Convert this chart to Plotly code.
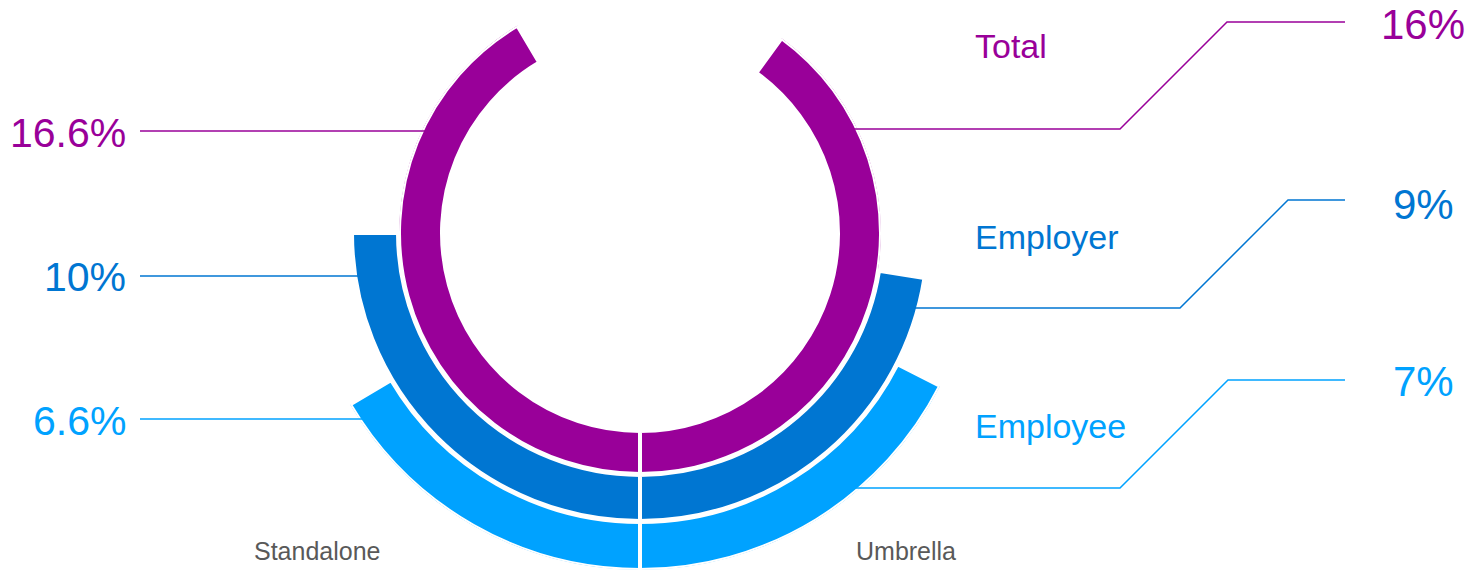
import math
import plotly.graph_objects as go

W, H = 1482, 570

# ---- data -------------------------------------------------------------
series = ["Total", "Employer", "Employee"]
standalone = [16.6, 10, 6.6]   # left half
umbrella = [16, 9, 7]          # right half
sides = ["Standalone", "Umbrella"]
colors = ["#990099", "#0076D2", "#00A2FF"]

# ---- geometry ---------------------------------------------------------
DEG_PER_PCT = 9.0            # 40 % would close a full circle
CX, CY = 640, 233            # ring centre in page pixels
STROKE = 4                   # white outline: splits halves and rings
# (inner, outer) radius of every ring in pixels, outline included
rings = [(198, 241), (242, 288), (289, 337)]
FONT = "Liberation Sans, Arial, sans-serif"

fig = go.Figure()

# ring 0 sits on a subplot whose sector reaches above the centre,
# the two outer rings on a lower half-disc subplot sharing the same centre
for i, name in enumerate(series):
    inner, outer = rings[i]
    sub = "polar" if i == 0 else "polar2"
    for vals, sign, side in ((standalone, 1, sides[0]), (umbrella, -1, sides[1])):
        span = vals[i] * DEG_PER_PCT
        fig.add_trace(go.Barpolar(
            r=[outer - inner], base=[inner],
            theta=[sign * span / 2], width=[span],
            marker=dict(color=colors[i], line=dict(color="white", width=STROKE)),
            subplot=sub, name=f"{name} – {side}", showlegend=False,
            hoverinfo="skip",
        ))


def polar_layout(R, up, sector):
    return dict(
        domain=dict(x=[(CX - R) / W, (CX + R) / W],
                    y=[max(0, (H - (CY + R)) / H), (H - (CY - up * R)) / H]),
        sector=sector,
        bgcolor="rgba(0,0,0,0)",
        hole=0,
        radialaxis=dict(visible=False, range=[0, R]),
        angularaxis=dict(visible=False, rotation=270, direction="clockwise",
                         thetaunit="degrees"),
    )


R1 = rings[0][1]
R2 = rings[-1][1]

# overlay axes in page pixels for the call-out lines and labels
fig.update_layout(
    width=W, height=H,
    margin=dict(l=0, r=0, t=0, b=0),
    paper_bgcolor="white", plot_bgcolor="rgba(0,0,0,0)",
    polar=polar_layout(R1, math.sin(math.radians(60)), [120, 420]),
    polar2=polar_layout(R2, 0, [180, 360]),
    xaxis=dict(range=[0, W], visible=False, fixedrange=True),
    yaxis=dict(range=[H, 0], visible=False, fixedrange=True),
    font=dict(family=FONT),
    barmode="overlay",
)

# left call-outs: horizontal line from the label to the ring edge
left_y = [131, 276, 419]
left_label_y = [133, 277, 421]
for i in range(3):
    ro = rings[i][1] - STROKE / 2
    y = left_y[i]
    x_ring = CX - math.sqrt(ro ** 2 - (y - CY) ** 2)
    fig.add_shape(type="line", xref="x", yref="y", x0=140, y0=y, x1=x_ring + 2, y1=y,
                  line=dict(color=colors[i], width=1.5))
    fig.add_annotation(x=128, y=left_label_y[i], xref="x", yref="y",
                       text=f"{standalone[i]:g}%", showarrow=False,
                       xanchor="right", yanchor="middle",
                       font=dict(size=41, color=colors[i], family=FONT))

# right call-outs: elbow lines up to the value labels
right_start_y = [129, 308, 488]
right_elbow_x = [1120, 1180, 1120]
right_top_y = [22, 200, 380]
right_label_y = [24, 204, 381]
series_label_y = [46, 237, 426]
for i in range(3):
    ro = rings[i][1] - STROKE / 2
    y0 = right_start_y[i]
    x_ring = CX + math.sqrt(ro ** 2 - (y0 - CY) ** 2)
    ex = right_elbow_x[i]
    ty = right_top_y[i]
    path = (f"M {x_ring - 2},{y0} L {ex},{y0} "
            f"L {ex + (y0 - ty)},{ty} L 1345,{ty}")
    fig.add_shape(type="path", xref="x", yref="y", path=path,
                  line=dict(color=colors[i], width=1.5))
    fig.add_annotation(x=1423, y=right_label_y[i], xref="x", yref="y",
                       text=f"{umbrella[i]:g}%", showarrow=False,
                       xanchor="center", yanchor="middle",
                       font=dict(size=42, color=colors[i], family=FONT))
    fig.add_annotation(x=973, y=series_label_y[i], xref="x", yref="y",
                       text=series[i], showarrow=False,
                       xanchor="left", yanchor="middle",
                       font=dict(size=34, color=colors[i], family=FONT))

# half labels under the rings
for txt, x in zip(sides, [317, 906]):
    fig.add_annotation(x=x, y=551, xref="x", yref="y", text=txt, showarrow=False,
                       xanchor="center", yanchor="middle",
                       font=dict(size=25, color="#595959", family=FONT))

fig.write_html("out.html")
